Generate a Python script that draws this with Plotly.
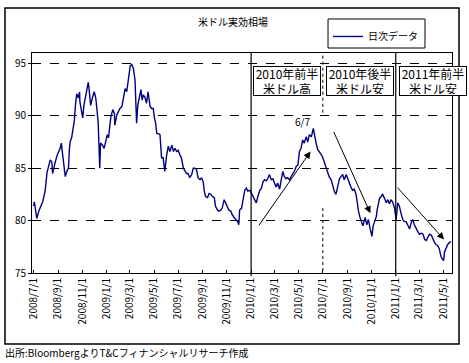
import plotly.graph_objects as go

dates = [
    "2008-07-01", "2008-07-03", "2008-07-09", "2008-07-15", "2008-07-24", "2008-07-30",
    "2008-08-04", "2008-08-12", "2008-08-16", "2008-08-18", "2008-08-24", "2008-08-30",
    "2008-09-06", "2008-09-09", "2008-09-12", "2008-09-15", "2008-09-19", "2008-09-23",
    "2008-09-27", "2008-09-29", "2008-10-01", "2008-10-05", "2008-10-09", "2008-10-12",
    "2008-10-15", "2008-10-18", "2008-10-22", "2008-10-25", "2008-10-26", "2008-10-31",
    "2008-11-02", "2008-11-05", "2008-11-10", "2008-11-16", "2008-11-18", "2008-11-22",
    "2008-11-27", "2008-12-01", "2008-12-05", "2008-12-07", "2008-12-11", "2008-12-13",
    "2008-12-15", "2008-12-17", "2008-12-22", "2008-12-26", "2008-12-29", "2009-01-03",
    "2009-01-06", "2009-01-10", "2009-01-12", "2009-01-17", "2009-01-21", "2009-01-22",
    "2009-01-27", "2009-01-31", "2009-02-04", "2009-02-09", "2009-02-13", "2009-02-17",
    "2009-02-21", "2009-02-25", "2009-03-02", "2009-03-06", "2009-03-10", "2009-03-14",
    "2009-03-16", "2009-03-18", "2009-03-21", "2009-03-24", "2009-03-29", "2009-04-01",
    "2009-04-04", "2009-04-08", "2009-04-12", "2009-04-16", "2009-04-21", "2009-04-25",
    "2009-04-29", "2009-05-02", "2009-05-05", "2009-05-08", "2009-05-12", "2009-05-16",
    "2009-05-18", "2009-05-20", "2009-05-24", "2009-05-28", "2009-06-02", "2009-06-06",
    "2009-06-10", "2009-06-15", "2009-06-19", "2009-06-23", "2009-06-27", "2009-07-01",
    "2009-07-05", "2009-07-09", "2009-07-14", "2009-07-18", "2009-07-22", "2009-07-26",
    "2009-07-30", "2009-08-04", "2009-08-08", "2009-08-12", "2009-08-16", "2009-08-20",
    "2009-08-25", "2009-08-29", "2009-09-02", "2009-09-05", "2009-09-08", "2009-09-13",
    "2009-09-17", "2009-09-22", "2009-09-25", "2009-09-30", "2009-10-03", "2009-10-08",
    "2009-10-11", "2009-10-16", "2009-10-20", "2009-10-25", "2009-10-28", "2009-11-02",
    "2009-11-06", "2009-11-11", "2009-11-14", "2009-11-19", "2009-11-23", "2009-11-28",
    "2009-12-01", "2009-12-03", "2009-12-08", "2009-12-12", "2009-12-16", "2009-12-20",
    "2009-12-24", "2009-12-29", "2010-01-02", "2010-01-06", "2010-01-10", "2010-01-14",
    "2010-01-18", "2010-01-23", "2010-01-27", "2010-01-31", "2010-02-04", "2010-02-08",
    "2010-02-12", "2010-02-16", "2010-02-21", "2010-02-25", "2010-03-01", "2010-03-05",
    "2010-03-09", "2010-03-14", "2010-03-18", "2010-03-22", "2010-03-26", "2010-03-30",
    "2010-04-03", "2010-04-08", "2010-04-12", "2010-04-16", "2010-04-20", "2010-04-25",
    "2010-04-29", "2010-05-03", "2010-05-07", "2010-05-11", "2010-05-15", "2010-05-20",
    "2010-05-24", "2010-05-28", "2010-06-02", "2010-06-07", "2010-06-10", "2010-06-14",
    "2010-06-18", "2010-06-22", "2010-06-27", "2010-07-01", "2010-07-05", "2010-07-09",
    "2010-07-13", "2010-07-17", "2010-07-22", "2010-07-26", "2010-07-30", "2010-08-03",
    "2010-08-07", "2010-08-12", "2010-08-16", "2010-08-20", "2010-08-24", "2010-08-29",
    "2010-09-02", "2010-09-06", "2010-09-10", "2010-09-14", "2010-09-18", "2010-09-23",
    "2010-09-26", "2010-09-29", "2010-10-02", "2010-10-06", "2010-10-10", "2010-10-13",
    "2010-10-16", "2010-10-20", "2010-10-24", "2010-10-28", "2010-11-02", "2010-11-05",
    "2010-11-08", "2010-11-13", "2010-11-15", "2010-11-18", "2010-11-21", "2010-11-25",
    "2010-11-29", "2010-12-04", "2010-12-08", "2010-12-12", "2010-12-16", "2010-12-20",
    "2010-12-24", "2010-12-29", "2011-01-02", "2011-01-06", "2011-01-10", "2011-01-15",
    "2011-01-19", "2011-01-23", "2011-01-27", "2011-01-31", "2011-02-05", "2011-02-09",
    "2011-02-13", "2011-02-17", "2011-02-21", "2011-02-25", "2011-03-02", "2011-03-07",
    "2011-03-11", "2011-03-15", "2011-03-19", "2011-03-23", "2011-03-27", "2011-04-01",
    "2011-04-05", "2011-04-09", "2011-04-13", "2011-04-17", "2011-04-21", "2011-04-25",
    "2011-04-29", "2011-05-02", "2011-05-04", "2011-05-08", "2011-05-12", "2011-05-16",
    "2011-05-20",
]

values = [
    81.4, 81.8, 80.2, 81.0, 81.8, 82.8,
    84.6, 85.8, 85.6, 84.5, 85.5, 86.3,
    86.9, 87.4, 86.4, 85.5, 84.2, 84.7,
    85.0, 86.6, 87.5, 87.9, 89.1, 89.6,
    91.2, 92.1, 91.7, 92.3, 91.3, 90.0,
    89.8, 91.0, 92.1, 93.2, 92.6, 91.0,
    91.8, 92.3, 91.7, 90.9, 89.4, 87.2,
    85.0, 87.4, 87.2, 86.9, 87.5, 88.2,
    87.9, 89.0, 89.9, 90.6, 90.2, 89.1,
    90.1, 90.4, 90.7, 90.9, 91.8, 92.6,
    92.3, 93.7, 94.8, 94.9, 94.5, 93.4,
    90.4, 89.3, 91.0, 91.7, 92.5, 91.5,
    92.0, 91.8, 91.2, 92.3, 90.9, 90.7,
    90.7, 89.8, 89.3, 88.3, 88.3, 88.2,
    86.9, 86.0, 86.0, 84.7, 86.3, 87.1,
    86.6, 87.2, 86.6, 86.9, 86.6, 86.7,
    86.3, 86.0, 85.0, 84.7, 84.5, 84.5,
    84.1, 84.4, 85.0, 85.0, 84.9, 84.1,
    83.9, 84.1, 83.7, 82.8, 82.3, 82.2,
    82.6, 82.5, 82.3, 82.2, 81.4, 81.0,
    80.9, 81.0, 81.2, 82.0, 81.7, 81.4,
    81.0, 80.9, 80.6, 80.3, 80.1, 79.9,
    79.6, 81.0, 81.2, 82.3, 82.9, 83.1,
    82.8, 82.9, 82.6, 82.3, 82.0, 81.7,
    82.3, 82.9, 83.1, 83.7, 83.9, 83.8,
    84.0, 84.4, 83.9, 84.0, 83.6, 83.2,
    83.6, 83.0, 83.9, 84.7, 84.2, 84.0,
    84.1, 83.9, 84.2, 84.4, 84.7, 85.2,
    85.3, 86.6, 86.9, 87.7, 87.4, 88.0,
    87.5, 88.2, 88.0, 88.8, 88.0, 87.4,
    86.8, 86.6, 86.3, 86.0, 85.5, 85.2,
    84.7, 84.2, 83.9, 83.2, 82.8, 82.5,
    83.2, 84.0, 84.2, 84.4, 83.9, 84.4,
    84.0, 83.5, 83.2, 82.9, 83.0, 82.5,
    81.5, 80.9, 80.4, 79.9, 79.5, 79.9,
    80.3, 79.6, 80.1, 79.3, 78.5, 79.5,
    79.9, 80.4, 81.0, 81.7, 82.1, 82.3,
    82.5, 82.1, 81.7, 82.0, 81.6, 82.0,
    81.8, 81.2, 80.1, 81.7, 81.4, 80.6,
    80.1, 79.9, 79.9, 79.6, 79.2, 79.8,
    80.1, 79.6, 79.2, 79.0, 78.7, 78.8,
    78.7, 78.2, 78.1, 78.4, 78.7, 78.6,
    78.2, 77.9, 77.7, 77.6, 77.3, 76.6,
    76.3, 76.2, 77.0, 77.4, 77.7, 77.9,
    78.0,
]

series_name = "日次データ"
title_text = "米ドル実効相場"
source_text = "出所:BloombergよりT&Cフィナンシャルリサーチ作成"
y_ticks = [75, 80, 85, 90, 95]

period_labels = ["2010年前半<br>米ドル高", "2010年後半<br>米ドル安", "2011年前半<br>米ドル安"]
solid_dividers = ["2010-01-01", "2011-01-01"]
dotted_divider = "2010-07-01"
peak_label = "6/7"

# trend arrows (tail date, tail value, head date, head value)
arrows = [
    ("2010-01-18", 79.4, "2010-05-31", 86.6),
    ("2010-07-27", 88.6, "2010-10-29", 80.7),
    ("2011-01-02", 83.3, "2011-05-03", 78.2),
]

JP = "Noto Sans CJK JP"

fig = go.Figure()
fig.add_trace(go.Scatter(
    x=dates, y=values, mode="lines", name=series_name,
    line=dict(color="#000080", width=1.4),
))

shapes = []
# outer chart frame
shapes.append(dict(type="rect", xref="paper", yref="paper",
                   x0=-0.0643, x1=1.0167, y0=-0.3227, y1=1.2045,
                   line=dict(color="black", width=1.5), layer="above"))
# legend frame
shapes.append(dict(type="rect", xref="paper", yref="paper",
                   x0=0.7048, x1=0.9357, y0=1.0227, y1=1.1545,
                   line=dict(color="black", width=1), fillcolor="white", layer="above"))
for d in solid_dividers:
    shapes.append(dict(type="line", xref="x", yref="paper", x0=d, x1=d,
                       y0=-0.015, y1=1, line=dict(color="black", width=1.2)))
shapes.append(dict(type="line", xref="x", yref="y", x0=dotted_divider, x1=dotted_divider,
                   y0=90.3, y1=96, line=dict(color="black", width=1, dash="dot")))
shapes.append(dict(type="line", xref="x", yref="y", x0=dotted_divider, x1=dotted_divider,
                   y0=81.2, y1=74.6, line=dict(color="black", width=1, dash="dot")))

annotations = []
box_x = [0.607, 0.780, 0.955]
for lab, bx in zip(period_labels, box_x):
    annotations.append(dict(
        text=lab, xref="paper", yref="paper", x=bx, y=0.873,
        xanchor="center", yanchor="middle", showarrow=False,
        font=dict(family=JP, size=12, color="black"),
        bgcolor="white", bordercolor="black", borderwidth=1, borderpad=1,
        width=64, height=26,
    ))
for (tx, ty, hx, hy) in arrows:
    annotations.append(dict(
        x=hx, y=hy, ax=tx, ay=ty, xref="x", yref="y", axref="x", ayref="y",
        text="", showarrow=True, arrowhead=2, arrowsize=1.4, arrowwidth=1,
        arrowcolor="black", standoff=0,
    ))
annotations.append(dict(
    text=peak_label, x="2010-05-10", y=89.45, xref="x", yref="y",
    showarrow=False, font=dict(family=JP, size=10, color="black"),
))
annotations.append(dict(
    text=source_text, xref="paper", yref="paper", x=-0.069, y=-0.3636,
    xanchor="left", yanchor="middle", showarrow=False,
    font=dict(family=JP, size=10, color="black"),
))

fig.update_layout(
    width=469, height=363,
    margin=dict(l=32, r=17, t=53, b=90, autoexpand=False),
    paper_bgcolor="white", plot_bgcolor="white",
    title=dict(text=title_text, x=0.497, y=1 - 22 / 363, xanchor="center", yanchor="middle",
               font=dict(family=JP, size=10, color="black")),
    showlegend=True,
    legend=dict(x=0.7048, y=1.141, xanchor="left", yanchor="top",
                borderwidth=0, bgcolor="rgba(0,0,0,0)",
                font=dict(family=JP, size=10, color="black"),
                itemwidth=30),
    xaxis=dict(
        type="date", range=["2008-06-27", "2011-05-23"],
        tick0="2008-07-01", dtick="M2", tickformat="%Y/%-m/%-d",
        tickangle=-90, ticks="inside", ticklen=3, tickcolor="black",
        showgrid=False, showline=True, linecolor="black", linewidth=1, mirror=True,
        tickfont=dict(family=JP, size=10, color="black"),
        zeroline=False,
    ),
    yaxis=dict(
        range=[75, 96], tickvals=y_ticks,
        ticks="outside", ticklen=3, tickcolor="black",
        showgrid=True, gridcolor="black", gridwidth=1, griddash="dash",
        showline=True, linecolor="black", linewidth=1, mirror=True,
        tickfont=dict(family=JP, size=10, color="black"),
        zeroline=False,
    ),
    shapes=shapes,
    annotations=annotations,
    font=dict(family=JP),
)

fig.write_html("out.html", config={"displayModeBar": False},
               post_script="document.body.style.margin='0';")
